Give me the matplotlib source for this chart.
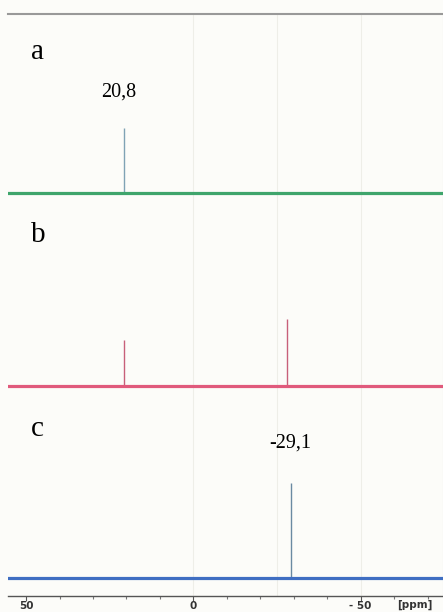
import matplotlib
matplotlib.use("Agg")
import matplotlib.pyplot as plt
import matplotlib.transforms as mtransforms

# spectra: peak positions (ppm) and heights (arbitrary units)
peaks_a = [20.8]
heights_a = [65]
peaks_b = [20.8, -28.0]
heights_b = [46, 67]
peaks_c = [-29.1]
heights_c = [95]

labels = ["a", "b", "c"]
peak_notes = ["20,8", "-29,1"]
tick_values = [50, 0, -50]
tick_labels = ["50", "0", "- 50"]

# pre-set visual elements
serif = "Liberation Serif"
base_colors = ["#3fa56c", "#e05a7c", "#3f6ec2"]
peak_colors = ["#7fa3b5", "#c8607a", "#6a8aa2"]
offsets = [403, 210, 18]

fig = plt.figure(figsize=(4.43, 6.12), dpi=100, facecolor="#fcfcf9")
ax = fig.add_axes([8 / 443, 16 / 612, 1 - 8 / 443, 582 / 612])
ax.set_facecolor("#fcfcf9")
ax.set_xlim(55.4, -74.6)
ax.set_ylim(0, 582)

# faint background grid from the scan
for g in [0, -25, -50]:
    ax.axvline(g, color="#eeeee8", lw=0.8, zorder=0)

xs = [55.4, -74.6]
spectra = [(peaks_a, heights_a), (peaks_b, heights_b), (peaks_c, heights_c)]
for i, (pk, ht) in enumerate(spectra):
    off = offsets[i]
    ax.plot(xs, [off, off], color=base_colors[i], lw=2.3, zorder=3)
    ax.vlines(pk, off, [off + h for h in ht], color=peak_colors[i], lw=1.0, zorder=2)

# panel letters
for lab, y in zip(labels, [544, 361, 167]):
    ax.text(46.5, y, lab, family=serif, fontsize=21, ha="center", va="center")

ax.text(22.4, 504, peak_notes[0], family=serif, fontsize=14.5, ha="center", va="center")
ax.text(-29.0, 153, peak_notes[1], family=serif, fontsize=14.5, ha="center", va="center")

# axis styling
ax.spines["left"].set_visible(False)
ax.spines["right"].set_color("#dddddd")
ax.spines["top"].set_color("#999999")
ax.spines["top"].set_linewidth(1.5)
ax.spines["bottom"].set_color("#555555")
ax.spines["bottom"].set_linewidth(1.0)
ax.set_yticks([])
ax.set_xticks(tick_values)
ax.set_xticklabels(tick_labels, fontsize=7.5, fontweight="bold", color="#333333")
ax.set_xticks(range(50, -75, -10), minor=True)
ax.tick_params(axis="x", which="major", direction="out", length=3.5, width=0.8,
               color="#555555", pad=0.3)
ax.tick_params(axis="x", which="minor", direction="out", length=2.5, width=0.8,
               color="#777777")

trans = mtransforms.blended_transform_factory(ax.transData, fig.transFigure)
ax.text(-66.2, 1 - 605 / 612, "[ppm]", transform=trans, fontsize=7.5,
        fontweight="bold", color="#333333", ha="center", va="center")

fig.savefig("out.png", dpi=100, facecolor=fig.get_facecolor())
